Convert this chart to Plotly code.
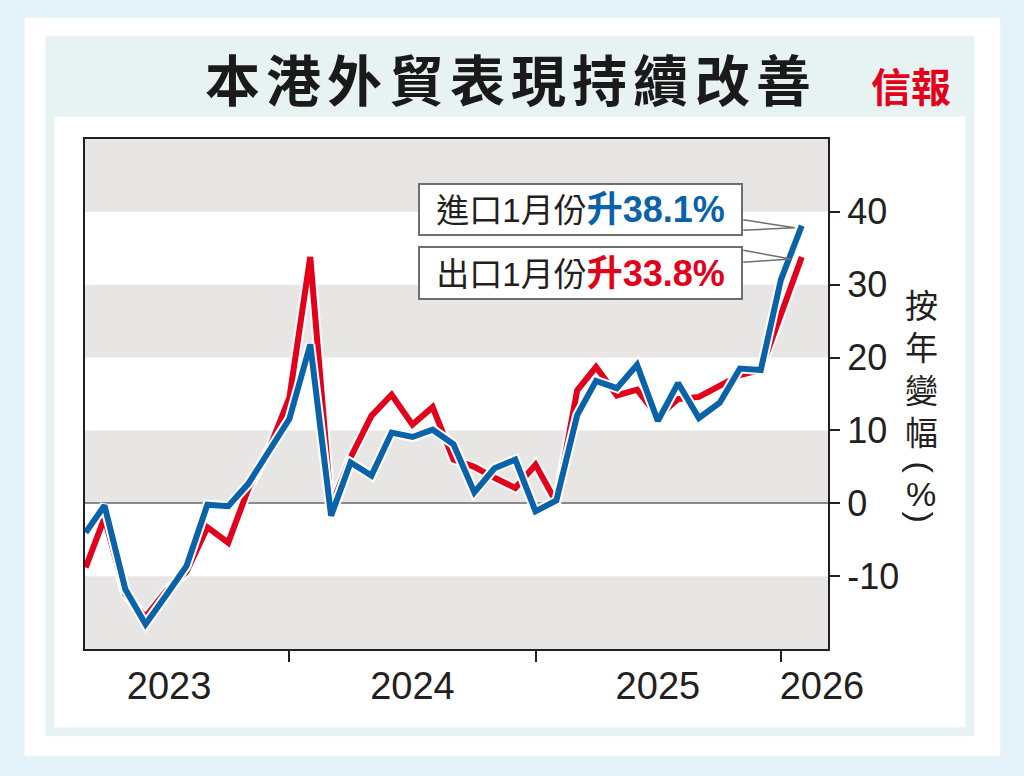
import plotly.graph_objects as go
import pandas as pd

# ---------------- data ----------------
MONTHS = pd.date_range("2023-02-01", periods=36, freq="MS")  # Feb 2023 .. Jan 2026
EXPORTS = [-8.8, -2.0, -12.5, -15.6, -12.0, -9.4, -3.3, -5.4, 2.0, 7.5, 14.5, 33.8,
           -0.5, 6.3, 12.0, 14.9, 10.8, 13.2, 6.0, 5.0, 3.5, 2.1, 5.3, 0.1,
           15.5, 18.7, 14.8, 15.6, 11.9, 14.3, 14.6, 16.1, 17.6, 18.3, 26.1, 33.8]
IMPORTS = [-4.0, -0.3, -11.8, -16.6, -12.6, -8.6, -0.2, -0.4, 2.7, 7.2, 11.6, 21.8,
           -1.7, 5.6, 3.8, 9.7, 9.1, 10.1, 8.1, 1.5, 4.8, 6.0, -1.1, 0.4,
           12.1, 16.8, 15.8, 19.0, 11.3, 16.5, 11.7, 13.8, 18.5, 18.3, 30.7, 38.1]
YEAR_LABELS = ["2023", "2024", "2025", "2026"]
YEAR_LABEL_POS = ["2023-06-05", "2024-06-01", "2025-06-01", "2026-01-31"]
DEC_TICKS = ["2023-12-01", "2024-12-01", "2025-12-01"]
Y_TICKS = [-10, 0, 10, 20, 30, 40]
Y_TICKTEXT = ["-10", "0", "10", "20", "30", "40"]
Y_RANGE = [-20, 50]
X_RANGE = ["2023-01-31", "2026-02-09"]
GREY_BANDS = [(40, 50), (20, 30), (0, 10), (-20, -10)]

TITLE = "本港外貿表現持續改善"
LOGO = "信報"
IMP_LABEL = ("進口1月份", "升38.1%")
EXP_LABEL = ("出口1月份", "升33.8%")
Y_TITLE = ["按", "年", "變", "幅"]

RED = "#e2001a"
BLUE = "#0a62a9"
INK = "#231f20"

# ---------------- geometry helpers (pixel -> paper) ----------------
W, H = 1024, 776
PL, PR, PT, PB = 84.5, 827.7, 138.5, 649.5


def px(x):
    return (x - PL) / (PR - PL)


def py(y):
    return (PB - y) / (PB - PT)


t0, t1 = pd.Timestamp(X_RANGE[0]), pd.Timestamp(X_RANGE[1])


def data_px(t, v):
    fx = (pd.Timestamp(t) - t0) / (t1 - t0)
    fy = (v - Y_RANGE[0]) / (Y_RANGE[1] - Y_RANGE[0])
    return PL + fx * (PR - PL), PB - fy * (PB - PT)


fig = go.Figure()

# lines with white casing
for vals, col in ((EXPORTS, RED), (IMPORTS, BLUE)):
    fig.add_trace(go.Scatter(x=MONTHS, y=vals, mode="lines",
                             line=dict(color="white", width=10),
                             hoverinfo="skip", showlegend=False))
    fig.add_trace(go.Scatter(x=MONTHS, y=vals, mode="lines",
                             line=dict(color=col, width=6),
                             showlegend=False))

shapes = []
# page frame
shapes.append(dict(type="rect", xref="paper", yref="paper", layer="below",
                   x0=px(24), x1=px(1000), y0=py(757), y1=py(17),
                   fillcolor="white", line=dict(width=0)))
shapes.append(dict(type="rect", xref="paper", yref="paper", layer="below",
                   x0=px(45), x1=px(974), y0=py(737), y1=py(35),
                   fillcolor="#e6f3f2", line=dict(width=0)))
shapes.append(dict(type="rect", xref="paper", yref="paper", layer="below",
                   x0=px(54), x1=px(965), y0=py(728), y1=py(116),
                   fillcolor="white", line=dict(width=0)))
# grey bands
for a, b in GREY_BANDS:
    shapes.append(dict(type="rect", xref="x domain", yref="y", layer="below",
                       x0=0, x1=1, y0=a, y1=b,
                       fillcolor="#e8e5e5", line=dict(width=0)))

# callout wedges
bx, by = data_px(MONTHS[-1], IMPORTS[-1])
rx, ry = data_px(MONTHS[-1], EXPORTS[-1])
for (ax_, ay_), (ya, yb) in (((bx - 7, by + 2), (219.5, 230)),
                             ((rx - 11, ry + 2), (250, 262))):
    shapes.append(dict(type="path", xref="paper", yref="paper", layer="above",
                       path=f"M {px(743)},{py(ya)} L {px(ax_)},{py(ay_)} L {px(743)},{py(yb)}",
                       line=dict(color="#6e6e6e", width=1.5)))

annotations = []
# title, one glyph at a time for the wide letter spacing
n = len(TITLE)
for k, ch in enumerate(TITLE):
    xc = 232 + k * (783 - 232) / (n - 1)
    annotations.append(dict(text="<b>" + ch + "</b>", xref="paper", yref="paper",
                            x=px(xc), y=py(76), xanchor="center", yanchor="middle",
                            showarrow=False,
                            font=dict(family="Noto Sans CJK TC", size=55, color="#1a1a1a")))
annotations.append(dict(text="<b>" + LOGO + "</b>", xref="paper", yref="paper",
                        x=px(911), y=py(84), xanchor="center", yanchor="middle",
                        showarrow=False,
                        font=dict(family="Noto Sans CJK TC", size=40, color=RED)))
# callout boxes
for (lbl, num), col, top, bot in ((IMP_LABEL, BLUE, 183, 236), (EXP_LABEL, RED, 246, 300)):
    annotations.append(dict(
        text=f"{lbl}<span style='color:{col};font-size:36px'><b>{num}</b></span>",
        xref="paper", yref="paper", x=px(418), y=py(top),
        xanchor="left", yanchor="top", showarrow=False,
        width=321, height=bot - top - 4, align="center", valign="middle",
        bgcolor="white", bordercolor="#6e6e6e", borderwidth=2, borderpad=0,
        font=dict(family="Liberation Sans, Noto Sans CJK TC", size=33, color=INK)))
# y-axis title (vertical stacked, upright glyphs)
for k, ch in enumerate(Y_TITLE):
    annotations.append(dict(text=ch, xref="paper", yref="paper",
                            x=px(921), y=py(306 + k * 42.5), xanchor="center", yanchor="middle",
                            showarrow=False,
                            font=dict(family="Liberation Sans, Noto Sans CJK TC", size=33, color=INK)))
for ch, yc, ang in (("(", 468, 90), ("%", 494, 0), (")", 517, 90)):
    annotations.append(dict(text=ch, xref="paper", yref="paper",
                            x=px(921), y=py(yc), xanchor="center", yanchor="middle",
                            textangle=ang, showarrow=False,
                            font=dict(family="Liberation Sans", size=34, color=INK)))

fig.update_layout(
    width=W, height=H,
    margin=dict(l=PL, r=W - PR, t=PT, b=H - PB, pad=0),
    paper_bgcolor="#e3f1f9",
    plot_bgcolor="white",
    font=dict(family="Liberation Sans, Arial, Noto Sans CJK TC", color=INK),
    shapes=shapes,
    annotations=annotations,
    showlegend=False,
    xaxis=dict(type="date", range=X_RANGE, showgrid=False, zeroline=False,
               showline=True, linecolor=INK, linewidth=2, mirror=True,
               tickmode="array", tickvals=YEAR_LABEL_POS, ticktext=YEAR_LABELS,
               ticks="outside", ticklen=1, tickcolor="rgba(0,0,0,0)",
               ticklabelstandoff=1,
               tickfont=dict(size=38, color=INK),
               minor=dict(tickmode="array", tickvals=DEC_TICKS, ticks="outside",
                          ticklen=11, tickwidth=2, tickcolor=INK, showgrid=False)),
    yaxis=dict(range=Y_RANGE, side="right", showgrid=False,
               zeroline=True, zerolinecolor="#8a8a8a", zerolinewidth=1.5,
               showline=True, linecolor=INK, linewidth=2, mirror=True,
               tickmode="array", tickvals=Y_TICKS, ticktext=Y_TICKTEXT,
               ticks="outside", ticklen=10, tickwidth=2, tickcolor=INK,
               tickfont=dict(size=36, color=INK)),
)

fig.write_html("out.html", config={"displayModeBar": False},
               post_script="document.body.style.margin='0px';document.body.style.overflow='hidden';")
